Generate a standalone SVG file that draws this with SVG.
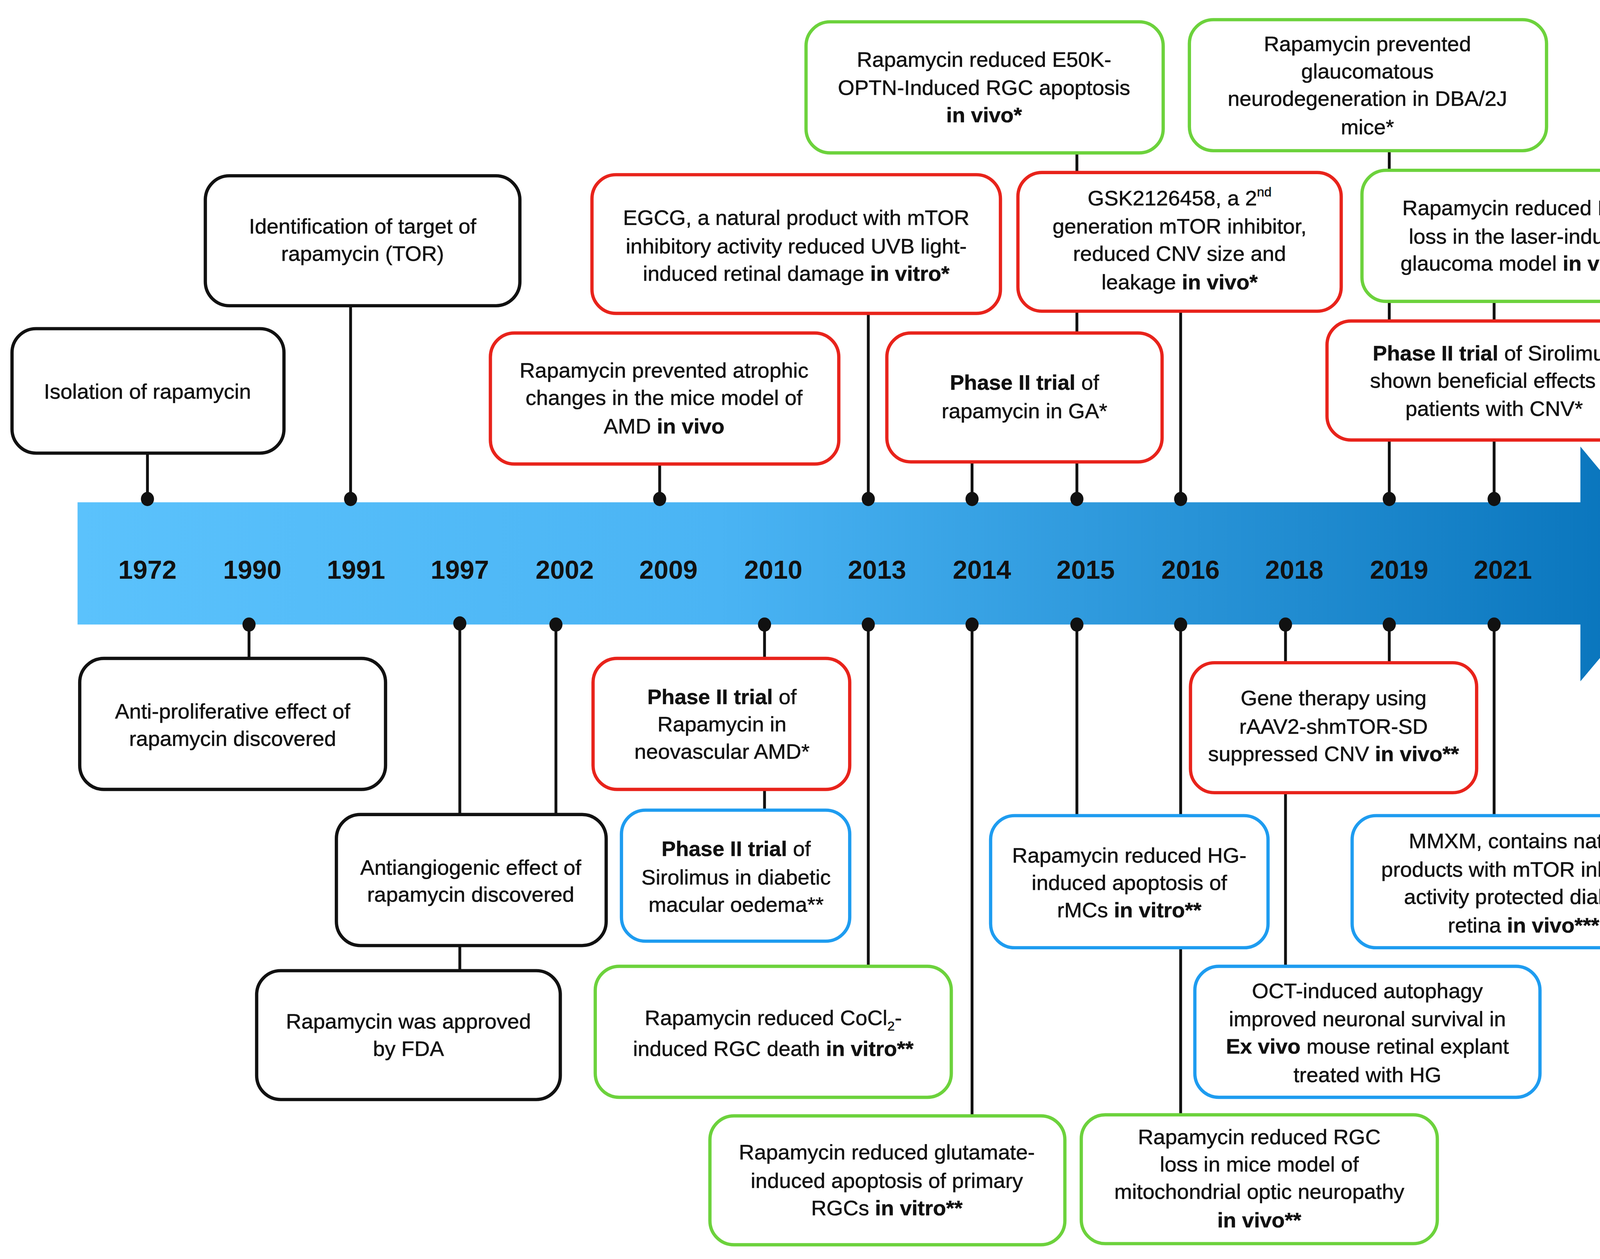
<svg xmlns="http://www.w3.org/2000/svg" width="4384" height="3224" viewBox="0 0 4384 3224">
<style>
.b{fill:#fff;stroke-width:3}
.k{stroke:#111}.r{stroke:#E8231B}.g{stroke:#6CD23C}.u{stroke:#1E9CF0}
text{font-family:"Liberation Sans",Arial,sans-serif;font-size:19.5px;fill:#111;stroke:#111;stroke-width:0.25;text-anchor:middle}
.y{font-size:24px;font-weight:bold;stroke-width:0}
.bd{font-weight:bold}
.c line{stroke:#111;stroke-width:2.6}
.c ellipse{fill:#111}
</style>
<defs>
<linearGradient id="gr" x1="71" y1="0" x2="1537" y2="0" gradientUnits="userSpaceOnUse">
<stop offset="0" stop-color="#5BC2FC"/><stop offset="0.4" stop-color="#4AB4F4"/><stop offset="1" stop-color="#0571B9"/>
</linearGradient>
</defs>
<rect width="4384" height="3224" fill="#fff"/>
<g transform="scale(2.796)">
<g id="timeline">
<path d="M71 460H1447V409L1537 517L1447 624V572H71Z" fill="url(#gr)"/>
<text class="y" x="135" y="530">1972</text><text class="y" x="231" y="530">1990</text><text class="y" x="326" y="530">1991</text>
<text class="y" x="421" y="530">1997</text><text class="y" x="517" y="530">2002</text><text class="y" x="612" y="530">2009</text>
<text class="y" x="708" y="530">2010</text><text class="y" x="803" y="530">2013</text><text class="y" x="899" y="530">2014</text>
<text class="y" x="994" y="530">2015</text><text class="y" x="1090" y="530">2016</text><text class="y" x="1185" y="530">2018</text>
<text class="y" x="1281" y="530">2019</text><text class="y" x="1376" y="530">2021</text>
</g>
<g id="connectors" class="c">
<line x1="135" y1="415" x2="135" y2="457"/><line x1="321" y1="280" x2="321" y2="457"/>
<line x1="604" y1="425" x2="604" y2="457"/><line x1="795" y1="287" x2="795" y2="457"/>
<line x1="986" y1="140" x2="986" y2="157"/><line x1="986" y1="285" x2="986" y2="304"/><line x1="986" y1="423" x2="986" y2="457"/>
<line x1="890" y1="423" x2="890" y2="457"/><line x1="1081" y1="285" x2="1081" y2="457"/>
<line x1="1272" y1="138" x2="1272" y2="155"/><line x1="1272" y1="276" x2="1272" y2="294"/><line x1="1368" y1="276" x2="1368" y2="294"/>
<line x1="1272" y1="403" x2="1272" y2="457"/><line x1="1368" y1="403" x2="1368" y2="457"/>
<line x1="228" y1="572" x2="228" y2="602"/><line x1="421" y1="572" x2="421" y2="745"/><line x1="509" y1="572" x2="509" y2="745"/>
<line x1="421" y1="866" x2="421" y2="888"/><line x1="700" y1="572" x2="700" y2="602"/><line x1="700" y1="723" x2="700" y2="742"/>
<line x1="795" y1="572" x2="795" y2="885"/><line x1="890" y1="572" x2="890" y2="1021"/>
<line x1="986" y1="572" x2="986" y2="747"/><line x1="1081" y1="572" x2="1081" y2="747"/><line x1="1081" y1="868" x2="1081" y2="1021"/>
<line x1="1177" y1="572" x2="1177" y2="607"/><line x1="1272" y1="572" x2="1272" y2="607"/><line x1="1177" y1="726" x2="1177" y2="885"/>
<line x1="1368" y1="572" x2="1368" y2="747"/>
<ellipse cx="135" cy="457" rx="6" ry="6.5"/><ellipse cx="321" cy="457" rx="6" ry="6.5"/><ellipse cx="604" cy="457" rx="6" ry="6.5"/>
<ellipse cx="795" cy="457" rx="6" ry="6.5"/><ellipse cx="890" cy="457" rx="6" ry="6.5"/><ellipse cx="986" cy="457" rx="6" ry="6.5"/>
<ellipse cx="1081" cy="457" rx="6" ry="6.5"/><ellipse cx="1272" cy="457" rx="6" ry="6.5"/><ellipse cx="1368" cy="457" rx="6" ry="6.5"/>
<ellipse cx="228" cy="572" rx="6" ry="6.5"/><ellipse cx="421" cy="571" rx="6" ry="6.5"/><ellipse cx="509" cy="572" rx="6" ry="6.5"/>
<ellipse cx="700" cy="572" rx="6" ry="6.5"/><ellipse cx="795" cy="572" rx="6" ry="6.5"/><ellipse cx="890" cy="572" rx="6" ry="6.5"/>
<ellipse cx="986" cy="572" rx="6" ry="6.5"/><ellipse cx="1081" cy="572" rx="6" ry="6.5"/><ellipse cx="1177" cy="572" rx="6" ry="6.5"/>
<ellipse cx="1272" cy="572" rx="6" ry="6.5"/><ellipse cx="1368" cy="572" rx="6" ry="6.5"/>
</g>
<g id="n1"><rect class="b k" x="11" y="301" width="249" height="114" rx="22"/><text x="135" y="365">Isolation of rapamycin</text></g>
<g id="n2"><rect class="b k" x="188" y="161" width="288" height="119" rx="22"/><text x="332" y="214">Identification of target of</text><text x="332" y="239">rapamycin (TOR)</text></g>
<g id="n3"><rect class="b r" x="449" y="305" width="319" height="120" rx="22"/><text x="608" y="346">Rapamycin prevented atrophic</text><text x="608" y="371">changes in the mice model of</text><text x="608" y="397">AMD <tspan class="bd">in vivo</tspan></text></g>
<g id="n4"><rect class="b r" x="542" y="160" width="374" height="127" rx="22"/><text x="729" y="206">EGCG, a natural product with mTOR</text><text x="729" y="232">inhibitory activity reduced UVB light-</text><text x="729" y="257">induced retinal damage <tspan class="bd">in vitro*</tspan></text></g>
<g id="n5"><rect class="b g" x="738" y="20" width="327" height="120" rx="22"/><text x="901" y="61">Rapamycin reduced E50K-</text><text x="901" y="87">OPTN-Induced RGC apoptosis</text><text x="901" y="112" class="bd">in vivo*</text></g>
<g id="n6"><rect class="b r" x="932" y="158" width="296" height="127" rx="22"/><text x="1080" y="188">GSK2126458, a 2<tspan font-size="12" dy="-8">nd</tspan></text><text x="1080" y="214">generation mTOR inhibitor,</text><text x="1080" y="239">reduced CNV size and</text><text x="1080" y="265">leakage <tspan class="bd">in vivo*</tspan></text></g>
<g id="n7"><rect class="b r" x="812" y="305" width="252" height="118" rx="22"/><text x="938" y="357"><tspan class="bd">Phase II trial</tspan> of</text><text x="938" y="383">rapamycin in GA*</text></g>
<g id="n8"><rect class="b g" x="1089" y="18" width="327" height="120" rx="22"/><text x="1252" y="47">Rapamycin prevented</text><text x="1252" y="72">glaucomatous</text><text x="1252" y="97">neurodegeneration in DBA/2J</text><text x="1252" y="123">mice*</text></g>
<g id="n9"><rect class="b g" x="1247" y="156" width="297" height="120" rx="22"/><text x="1395" y="197">Rapamycin reduced RGC</text><text x="1395" y="223">loss in the laser-induced</text><text x="1395" y="248">glaucoma model <tspan class="bd">in vivo**</tspan></text></g>
<g id="n10"><rect class="b r" x="1215" y="294" width="307" height="109" rx="22"/><text x="1368" y="330"><tspan class="bd">Phase II trial</tspan> of Sirolimus</text><text x="1368" y="355">shown beneficial effects in</text><text x="1368" y="381">patients with CNV*</text></g>
<g id="n11"><rect class="b k" x="73" y="603" width="280" height="120" rx="22"/><text x="213" y="658">Anti-proliferative effect of</text><text x="213" y="683">rapamycin discovered</text></g>
<g id="n12"><rect class="b k" x="308" y="746" width="247" height="120" rx="22"/><text x="431" y="801">Antiangiogenic effect of</text><text x="431" y="826">rapamycin discovered</text></g>
<g id="n13"><rect class="b k" x="235" y="889" width="278" height="118" rx="22"/><text x="374" y="942">Rapamycin was approved</text><text x="374" y="967">by FDA</text></g>
<g id="n14"><rect class="b r" x="543" y="603" width="235" height="120" rx="22"/><text x="661" y="645"><tspan class="bd">Phase II trial</tspan> of</text><text x="661" y="670">Rapamycin in</text><text x="661" y="695">neovascular AMD*</text></g>
<g id="n15"><rect class="b u" x="569" y="742" width="209" height="120" rx="22"/><text x="674" y="784"><tspan class="bd">Phase II trial</tspan> of</text><text x="674" y="810">Sirolimus in diabetic</text><text x="674" y="835">macular oedema**</text></g>
<g id="n16"><rect class="b g" x="545" y="885" width="326" height="120" rx="22"/><text x="708" y="939">Rapamycin reduced CoCl<tspan font-size="12" dy="5">2</tspan><tspan dy="-5">-</tspan></text><text x="708" y="967">induced RGC death <tspan class="bd">in vitro**</tspan></text></g>
<g id="n17"><rect class="b g" x="650" y="1022" width="325" height="118" rx="22"/><text x="812" y="1062">Rapamycin reduced glutamate-</text><text x="812" y="1088">induced apoptosis of primary</text><text x="812" y="1113">RGCs <tspan class="bd">in vitro**</tspan></text></g>
<g id="n18"><rect class="b u" x="907" y="747" width="254" height="121" rx="22"/><text x="1034" y="790">Rapamycin reduced HG-</text><text x="1034" y="815">induced apoptosis of</text><text x="1034" y="840">rMCs <tspan class="bd">in vitro**</tspan></text></g>
<g id="n19"><rect class="b g" x="990" y="1021" width="326" height="118" rx="22"/><text x="1153" y="1048">Rapamycin reduced RGC</text><text x="1153" y="1073">loss in mice model of</text><text x="1153" y="1098">mitochondrial optic neuropathy</text><text x="1153" y="1124" class="bd">in vivo**</text></g>
<g id="n20"><rect class="b r" x="1090" y="607" width="262" height="119" rx="22"/><text x="1221" y="646">Gene therapy using</text><text x="1221" y="672">rAAV2-shmTOR-SD</text><text x="1221" y="697">suppressed CNV <tspan class="bd">in vivo**</tspan></text></g>
<g id="n21"><rect class="b u" x="1094" y="885" width="316" height="120" rx="22"/><text x="1252" y="914">OCT-induced autophagy</text><text x="1252" y="940">improved neuronal survival in</text><text x="1252" y="965"><tspan class="bd">Ex vivo</tspan> mouse retinal explant</text><text x="1252" y="991">treated with HG</text></g>
<g id="n22"><rect class="b u" x="1238" y="747" width="315" height="121" rx="22"/><text x="1395" y="777">MMXM, contains natural</text><text x="1395" y="803">products with mTOR inhibitory</text><text x="1395" y="828">activity protected diabetic</text><text x="1395" y="854">retina <tspan class="bd">in vivo***</tspan></text></g>
</g>
</svg>
